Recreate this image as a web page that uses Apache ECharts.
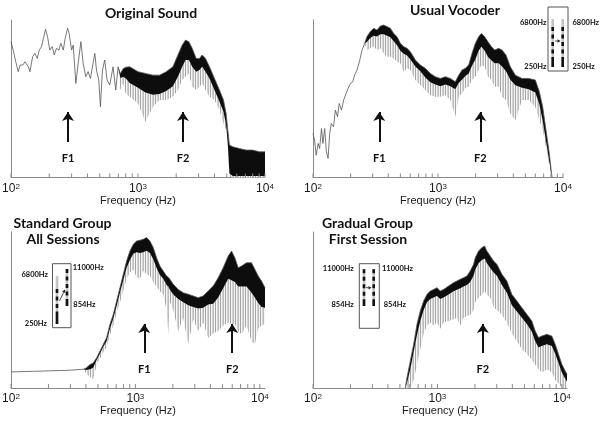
<!DOCTYPE html>
<html><head><meta charset="utf-8">
<script src="https://cdn.jsdelivr.net/npm/echarts@6/dist/echarts.min.js"></script>
<style>html,body{margin:0;padding:0;background:#fff}#c{width:604px;height:423px}</style>
</head><body><div id="c"></div>
<script>
// ---------- Panel 1: Original Sound ----------
const p1ThinFreq = [100,104,109,114,118,124,129,137,141,148,154,161,167,174,180,187,194,202,211,219,228,238,247,258,267,279,287,300,309,324,338,355,370,388,405,422,457,471,491,506,525,547,571,599,636,668,697];
const p1ThinLevel = [86.2,80.9,73.5,67.2,71.4,71.4,73.5,70.3,67.2,76.7,78.8,75.6,80.9,83.1,88.3,94.1,89.4,80.9,83.1,77.8,82,80.9,85.2,80.9,88.3,94.7,91.5,80.9,84.1,59.7,72.5,86.2,72.5,64,67.2,62.9,78.8,68.2,61.9,44.9,68.2,74.6,61.9,58.7,70.3,55.5,70.3];
const p1BandFreq = [727,763,800,860,1000,1142,1312,1480,1669,1883,2062,2229,2368,2515,2671,2872,3050,3201,3400,3654,4000,4380,4709,4940,5092,5248,5573,6286,7093,8000,9027,10000];
const p1BandHi  = [66,69,70,70.3,67.2,66.1,65,65,67.2,70.3,77.8,84.1,87.3,86.2,82,75.6,75.6,77.8,75.6,70.3,62.9,55.5,49.2,40.7,30.1,20.6,19.5,18.4,17.4,17.4,16.3,16.3];
const p1BandLo  = [63,64,63,60,57,54,52.5,53,55,58,64,70.3,74.6,74.6,70.3,67.2,68.2,70.3,67.2,62.9,55.5,48.1,41.7,33.3,21.6,2.5,1,1,1,1,1,1];
const p1BandDip = [55.5,60,53.4,51.3,47,35.4,44.9,49.2,49.2,51.3,55.5,61.9,64,66.1,57.6,55.5,57.6,59.7,55.5,51.3,49.2,42.8,34.3,30.1,19.5,0.4,0,0,0,0,0,0];
const p1FormantNames = ['F1','F2'];
const p1FormantFreq = [281, 2260];

// ---------- Panel 2: Usual Vocoder ----------
const p2ThinFreq = [100,103,106,110,113,117,120,124,128,132,136,140,146,151,157,162,169,176,184,191,199,208,215,225,235,247,259];
const p2ThinLevel = [28,23.7,14.2,21.6,18.4,31.1,21.6,31.1,16.3,12.1,28,34.3,32.2,42.8,38.6,47,42.8,49.2,53.4,56.6,59.7,60.8,65,68.2,73.5,80.9,85.2];
const p2BandFreq = [270,287,306,325,346,368,391,416,442,470,500,531,565,601,659,722,792,868,952,1044,1145,1255,1376,1464,1556,1655,1760,1871,1990,2115,2222,2362,2512,2671,2840,3057,3251,3499,3792,4158,4699,5312,6006,6467,6877,7311,7775,8166];
const p2BandHi  = [89.4,92.6,94.7,93.6,96.2,96.8,95.8,94.7,91.5,89.4,85.2,83.1,82,79.9,74.6,71.4,69.3,66.1,64,62.9,64,62.9,60.8,65,68.2,69.3,71.4,78.8,85.2,89.4,91.5,89.4,86.2,83.1,80.9,82,80.9,77.8,70.3,65,62.9,62.9,61.9,54.5,44.9,30.1,15.3,0];
const p2BandLo  = [86,88.5,90,89.5,91,91,90,89,86.5,84,80.5,78.5,77.5,75,70.5,67.5,63.5,60.5,59,58,59,58,56,60,62,64.5,66,71,75,80.5,83,80.5,76.5,74.5,72.5,72.5,70.5,67.5,62,58.5,57,56,54,46.5,36,23,10,0];
const p2BandDip = [80.9,82,83.1,80.9,82,78.8,76.7,76.7,75.6,73.5,72.5,67.2,69.3,68.2,61.9,58.7,55.5,52.3,51.3,51.3,52.3,49.2,38.6,51.3,53.4,56.6,57.6,61.9,64,68.2,71.4,70.3,64,61.9,57.6,57.6,51.3,49.2,40.7,36.4,49.2,49.2,44.9,36.4,30.1,19.5,6.8,0];
const p2FormantNames = ['F1','F2'];
const p2FormantFreq = [339, 2180];

// ---------- Panel 3: Standard Group, All Sessions ----------
const p3Freq = [100,151,206,280,381,405,431,458,488,519,552,587,624,664,706,751,799,849,903,961,1022,1087,1156,1229,1308,1391,1479,1573,1673,1780,1835,1893,2014,2208,2422,2657,2914,3197,3506,3846,4219,4627,5076,5568,5923,6299,6699,7126,7815,8573,9117,9696,10314,11000];
const p3Hi  = [10.3,10.7,11,11.3,12,13,15,16,19.4,23.7,28,32.3,40.8,47.2,55.8,64.3,72.9,81.4,87.8,92.1,94.2,94.7,95.3,96.4,94.2,90,83.5,78.2,75,71.8,71,69.7,66.5,63.2,61.1,60.1,59,57.9,59,62.2,65.4,70.7,77.1,84.6,87.8,83.5,77.1,78.2,80.3,80.3,76.1,71.8,68.6,64.3];
const p3Lo  = [10.3,10.7,11,11.3,12,11.5,12,13,18,22,26.5,30,38,44.5,52.5,61,69,77,82,86,87,86.5,87,88,86.5,82.5,77,72.5,70,66,65,63,60,57,55,53,52,51,51.5,53.5,54,58,64,70,69,68,65,65,65,61,58,54.5,52,51.5];
const p3Dip = [10.3,10.7,11,11.3,12,9,7,5.6,15,19,23,26,34,40,48,55,62,70,74,76,71,70,75,73,72,68,65,62,60,50,34.4,55,50,36.5,45,28,44,36.5,42,32,35,36.5,40,42,40.8,41,36,34.4,40,30,28,38,40,40.8];
const p3FormantNames = ['F1','F2'];
const p3FormantFreq = [1178, 6000];

// ---------- Panel 4: Gradual Group, First Session ----------
const p4Freq = [552,569,605,644,685,728,775,824,876,932,991,1054,1121,1229,1348,1434,1525,1622,1726,1835,1952,2014,2142,2278,2393,2499,2657,2826,3006,3297,3616,3966,4350,4771,5233,5741,6106,6494,6907,7577,8310,8841,9402,10000,10636,11000];
const p4Hi  = [0,6.6,17.3,28,40.8,49.4,55.8,60,62.2,63.2,64.3,62.2,63.2,65.4,67.5,68.6,69.7,70.7,71.8,75,79.3,83.5,87.8,90,91,87.8,84.6,81.4,79.3,72.9,68.6,60,55.8,51.5,47.2,42.9,36.5,32.3,33.3,34.4,33.3,28,21.6,15.2,10.9,8.8];
const p4Lo  = [0,3,12,23,34,43,50,55,57,58,59,57,58,60,62,63,64,65,66,68,72,76,80,82,83,80,77,74,72,66,61,53,49,45,41,36,30,26,27,28,27,22,16,10,6,4];
const p4Dip = [0,0,0,5,15,25,35,40,42,40,42,38,42,43,44,45,40,45,46,47,50,55,58,60,62,60,58,52,50,47,42,35,30,25,22,18,15,12,10,12,10,5,3,0,0,0];
const p4FormantNames = ['F2'];
const p4FormantFreq = [2318];

// ---------- Axis / text ----------
const tickFreq = [100,200,300,400,500,600,700,800,900,1000,2000,3000,4000,5000,6000,7000,8000,9000,10000];
const axisMaxFreq = [10000, 10000, 11000, 11000];
const panelTitles = ['Original Sound', 'Usual Vocoder', 'Standard Group\nAll Sessions', 'Gradual Group\nFirst Session'];
const xAxisName = 'Frequency (Hz)';
const inset2Labels = ['6800Hz', '6800Hz', '250Hz', '250Hz'];
const inset3Labels = ['6800Hz', '11000Hz', '250Hz', '854Hz'];
const inset4Labels = ['11000Hz', '11000Hz', '854Hz', '854Hz'];

// assemble
const panels = [
  { freq: p1ThinFreq.concat(p1BandFreq), hi: p1ThinLevel.concat(p1BandHi), lo: p1ThinLevel.concat(p1BandLo), dip: p1ThinLevel.concat(p1BandDip), fn: p1FormantNames, ff: p1FormantFreq },
  { freq: p2ThinFreq.concat(p2BandFreq), hi: p2ThinLevel.concat(p2BandHi), lo: p2ThinLevel.concat(p2BandLo), dip: p2ThinLevel.concat(p2BandDip), fn: p2FormantNames, ff: p2FormantFreq },
  { freq: p3Freq, hi: p3Hi, lo: p3Lo, dip: p3Dip, fn: p3FormantNames, ff: p3FormantFreq },
  { freq: p4Freq, hi: p4Hi, lo: p4Lo, dip: p4Dip, fn: p4FormantNames, ff: p4FormantFreq }
];

const gridPos = [
  { left: 11, top: 20, width: 254, height: 157.5 },
  { left: 313, top: 20, width: 250, height: 157.5 },
  { left: 11, top: 232, width: 254, height: 156 },
  { left: 313, top: 232, width: 254, height: 156 }
];

const AXIS_COLOR = '#8a8a8a';
const TXT = '#1a1a1a';

// hairline texture for the sparse grey spikes below the dense band
const spikeCanvas = document.createElement('canvas');
spikeCanvas.width = 5; spikeCanvas.height = 4;
(function () {
  const g = spikeCanvas.getContext('2d');
  g.fillStyle = '#f6f6f6'; g.fillRect(0, 0, 5, 4);
  g.fillStyle = '#a4a4a4'; g.fillRect(0, 0, 1, 4);
  g.fillStyle = '#d2d2d2'; g.fillRect(2, 0, 1, 4);
  g.fillStyle = '#bcbcbc'; g.fillRect(3, 0, 1, 4);
})();
const spikeFill = { image: spikeCanvas, repeat: 'repeat' };

const grids = gridPos.map(g => Object.assign({ containLabel: false, outerBoundsMode: 'none' }, g));
const xAxes = gridPos.map((g, i) => ({
  type: 'log', logBase: 10, gridIndex: i, min: 100, max: axisMaxFreq[i],
  axisLine: { show: true, onZero: false, lineStyle: { color: AXIS_COLOR, width: 1 } },
  axisTick: { show: false }, splitLine: { show: false }, minorTick: { show: false },
  axisLabel: {
    margin: 5, color: TXT,
    formatter: v => {
      const l = Math.log10(v), e = Math.round(l);
      if (Math.abs(l - e) > 1e-6) return '';
      return '{b|10}{s|' + e + '}';
    },
    rich: {
      b: { fontSize: 12, fontFamily: 'Liberation Sans', color: TXT },
      s: { fontSize: 8, fontFamily: 'Liberation Sans', color: TXT, verticalAlign: 'top' }
    }
  },
  name: xAxisName, nameLocation: 'middle', nameGap: 17,
  nameTextStyle: { fontSize: 11, fontFamily: 'Liberation Sans', color: TXT }
}));
const yAxes = gridPos.map((g, i) => ({
  type: 'value', gridIndex: i, min: 0, max: 100,
  axisLine: { show: true, onZero: false, lineStyle: { color: AXIS_COLOR, width: 1 } },
  axisTick: { show: false }, axisLabel: { show: false }, splitLine: { show: false }
}));

const arrowBase = [22.5, 22.5, 22.4, 22.4];
const arrowTip = [41.6, 41.6, 41, 41];

const series = [];
panels.forEach((p, i) => {
  // spectrum band drawn through the axes' scales
  series.push({
    type: 'custom', coordinateSystem: 'cartesian2d', xAxisIndex: i, yAxisIndex: i,
    silent: true, clip: false, z: 2,
    data: [[p.freq[0], p.hi[0]]],
    renderItem: (params, api) => {
      const hiPts = p.freq.map((f, k) => api.coord([f, p.hi[k]]));
      const loPts = p.freq.map((f, k) => api.coord([f, p.lo[k]]));
      const dipPts = p.freq.map((f, k) => api.coord([f, p.dip[k]]));
      const ticks = tickFreq.filter(f => f <= axisMaxFreq[i]).map(f => {
        const c = api.coord([f, 0]);
        return { type: 'line', shape: { x1: c[0], y1: c[1], x2: c[0], y2: c[1] - 4 }, style: { stroke: AXIS_COLOR, lineWidth: 1 } };
      });
      return { type: 'group', children: [
        { type: 'polygon', shape: { points: loPts.concat(dipPts.slice().reverse()) }, style: { fill: spikeFill } },
        { type: 'polygon', shape: { points: hiPts.concat(loPts.slice().reverse()) }, style: { fill: '#0d0d0d' } },
        { type: 'polyline', shape: { points: hiPts }, style: { stroke: '#555', lineWidth: 0.8, fill: 'none' } }
      ].concat(ticks) };
    }
  });
  // formant arrows
  series.push({
    type: 'scatter', xAxisIndex: i, yAxisIndex: i, silent: true, z: 3,
    data: [], symbolSize: 0,
    markLine: {
      silent: true, animation: false,
      symbol: ['none', 'arrow'], symbolSize: 9,
      lineStyle: { color: '#111', width: 2, type: 'solid' },
      label: { show: true, position: 'start', distance: 11, formatter: '{b}',
               fontFamily: 'Lato', fontWeight: 'bold', fontSize: 11, color: '#111' },
      emphasis: { disabled: true },
      data: p.ff.map((f, k) => [
        { name: p.fn[k], coord: [f, arrowBase[i]] },
        { coord: [f, arrowTip[i]] }
      ])
    }
  });
});

// ---------- decorations: titles and inset diagrams ----------
function txt(x, y, text, size, align) {
  return { type: 'text', x, y, silent: true, z: 100,
    style: { text, fontFamily: 'Lato', fontWeight: 'bold', fontSize: size, fill: '#111',
             align: align || 'center', verticalAlign: 'middle' } };
}
function column(x, yTop, yBot, grayTop, solidBot) {
  const els = [
    { type: 'line', silent: true, z: 100, shape: { x1: x, y1: yTop, x2: x, y2: yBot }, style: { stroke: '#c4c4c4', lineWidth: 2.6 } },
    { type: 'line', silent: true, z: 101, shape: { x1: x, y1: yTop + grayTop, x2: x, y2: yBot - solidBot }, style: { stroke: '#111', lineWidth: 2.6, lineDash: [4, 3.5] } }
  ];
  if (solidBot > 0) els.push({ type: 'line', silent: true, z: 101, shape: { x1: x, y1: yBot - solidBot, x2: x, y2: yBot }, style: { stroke: '#111', lineWidth: 2.6 } });
  return els;
}
function arrow(x1, y1, x2, y2) {
  const a = Math.atan2(y2 - y1, x2 - x1), h = 3, w = 1.8;
  const bx = x2 - h * Math.cos(a), by = y2 - h * Math.sin(a);
  return [
    { type: 'line', silent: true, z: 102, shape: { x1, y1, x2: bx, y2: by }, style: { stroke: '#222', lineWidth: 0.8 } },
    { type: 'polygon', silent: true, z: 102, shape: { points: [[x2, y2], [bx - w * Math.sin(a), by + w * Math.cos(a)], [bx + w * Math.sin(a), by - w * Math.cos(a)]] }, style: { fill: '#222' } }
  ];
}
function box(x, y, w, h) {
  return { type: 'rect', silent: true, z: 99, shape: { x, y, width: w, height: h }, style: { fill: '#fff', stroke: '#555', lineWidth: 1 } };
}
const t1 = panelTitles[2].split('\n'), t2 = panelTitles[3].split('\n');
const graphic = [
  txt(151, 13, panelTitles[0], 14),
  txt(455, 10, panelTitles[1], 14),
  txt(62.5, 223, t1[0], 14), txt(63, 239.5, t1[1], 14),
  txt(367.5, 223, t2[0], 14), txt(368, 239.5, t2[1], 14),
  // inset panel 2
  box(548, 7, 20, 64),
  ...column(552.7, 19, 67, 8, 9),
  ...column(562.7, 19, 67, 8, 9),
  ...arrow(555, 41, 560.5, 41),
  txt(546.5, 22.5, inset2Labels[0], 7.5, 'right'),
  txt(572.5, 22.5, inset2Labels[1], 7.5, 'left'),
  txt(546.5, 66.7, inset2Labels[2], 7.5, 'right'),
  txt(572.5, 66.7, inset2Labels[3], 7.5, 'left'),
  // inset panel 3
  box(52.5, 263.7, 18.5, 64),
  ...column(57, 276, 324, 13, 11),
  ...column(67, 269, 306, 0, 6),
  ...arrow(59.5, 301, 65, 289.5),
  txt(48, 275, inset3Labels[0], 7.5, 'right'),
  txt(72.7, 267.7, inset3Labels[1], 7.5, 'left'),
  txt(47, 324, inset3Labels[2], 7.5, 'right'),
  txt(73.3, 305, inset3Labels[3], 7.5, 'left'),
  // inset panel 4
  box(359.3, 263.7, 20, 64.6),
  ...column(364, 269.3, 306, 0, 6),
  ...column(373.7, 269.3, 306, 0, 6),
  ...arrow(366, 287.7, 371.5, 287.7),
  txt(353.7, 268.3, inset4Labels[0], 7.5, 'right'),
  txt(382, 268.3, inset4Labels[1], 7.5, 'left'),
  txt(353.7, 305, inset4Labels[2], 7.5, 'right'),
  txt(383.7, 305, inset4Labels[3], 7.5, 'left')
];

const chart = echarts.init(document.getElementById('c'), null, { renderer: 'canvas', width: 604, height: 423 });
chart.setOption({
  animation: false,
  backgroundColor: '#fff',
  grid: grids, xAxis: xAxes, yAxis: yAxes, series, graphic
});
</script></body></html>
